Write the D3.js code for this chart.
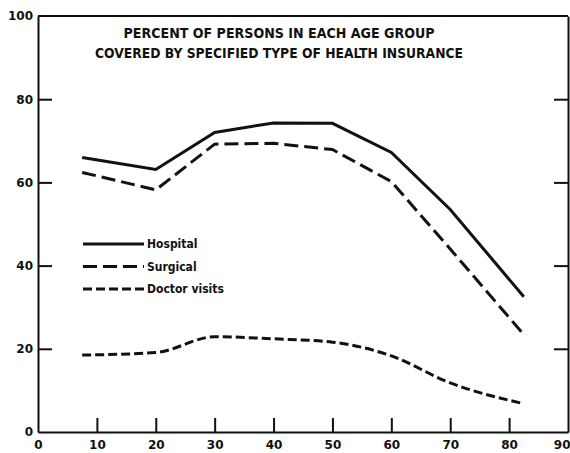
<!DOCTYPE html>
<html>
<head>
<meta charset="utf-8">
<script src="https://d3js.org/d3.v7.min.js"></script>
<style>
  body { margin: 0; background: #fff; }
  text { font-family: "DejaVu Sans Condensed", "DejaVu Sans", sans-serif; font-weight: bold; fill: #111; }
</style>
</head>
<body>
<div id="chart"></div>
<script>
// age group midpoints (years) and percent covered
var ages = [7.5, 20, 30, 40, 50, 60, 70, 82.5];
var hospital = [66.0, 63.1, 72.0, 74.3, 74.2, 67.2, 53.5, 32.5];
var surgical = [62.4, 58.2, 69.2, 69.4, 67.9, 60.2, 44.0, 23.4];
var doctor = [18.5, 19.1, 22.9, 22.4, 21.6, 18.3, 11.8, 6.8];

var xTicks = [0, 10, 20, 30, 40, 50, 60, 70, 80, 90];
var yTicks = [0, 20, 40, 60, 80, 100];
var seriesNames = ["Hospital", "Surgical", "Doctor visits"];
var titleLines = ["PERCENT OF PERSONS IN EACH AGE GROUP",
                  "COVERED BY SPECIFIED TYPE OF HEALTH INSURANCE"];

var width = 570, height = 453;
var plotLeft = 38, plotRight = 568, plotTop = 16, plotBottom = 432;

var svg = d3.select("#chart").append("svg")
    .attr("width", width)
    .attr("height", height);

var x = d3.scaleLinear().domain([0, 90]).range([plotLeft, plotRight]);
var y = d3.scaleLinear().domain([0, 100]).range([plotBottom, plotTop]);

// axes
var xAxis = svg.append("g")
    .attr("transform", "translate(0," + plotBottom + ")")
    .call(d3.axisBottom(x).tickValues(xTicks).tickSize(-14).tickPadding(8).tickSizeOuter(0));

var yAxis = svg.append("g")
    .attr("transform", "translate(" + plotLeft + ",0)")
    .call(d3.axisLeft(y).tickValues(yTicks).tickSize(-14).tickPadding(5).tickSizeOuter(0));

var rAxis = svg.append("g")
    .attr("transform", "translate(" + plotRight + ",0)")
    .call(d3.axisRight(y).tickValues([20, 40, 60, 80]).tickSize(-14).tickSizeOuter(0).tickFormat(""));

svg.selectAll(".domain").attr("stroke", "#111").attr("stroke-width", 2);
svg.selectAll(".tick line").attr("stroke", "#111").attr("stroke-width", 2);
svg.selectAll(".tick text").style("font-size", "12px").style("font-family", "'DejaVu Sans', sans-serif");
// no tick marks at the corners
xAxis.selectAll(".tick").filter(function(d) { return d == 0 || d == 90; }).select("line").remove();
yAxis.selectAll(".tick").filter(function(d) { return d == 0 || d == 100; }).select("line").remove();
// keep the last label inside the window
xAxis.selectAll(".tick").filter(function(d) { return d == 90; }).select("text")
    .attr("text-anchor", "end").attr("x", 2);

// top frame
svg.append("line")
    .attr("x1", plotLeft).attr("x2", plotRight)
    .attr("y1", plotTop).attr("y2", plotTop)
    .attr("stroke", "#111").attr("stroke-width", 2);

// title
svg.selectAll(".title")
  .data(titleLines)
  .enter().append("text")
    .attr("class", "title")
    .attr("x", 279)
    .attr("y", function(d, i) { return 38 + i * 19.5; })
    .attr("text-anchor", "middle")
    .attr("textLength", function(d, i) { return i == 0 ? 311 : 368; })
    .attr("lengthAdjust", "spacingAndGlyphs")
    .style("font-size", "14px")
    .text(function(d) { return d; });

var dashes = ["none", "14,6", "9,4"];
var allSeries = [hospital, surgical, doctor];

var line = d3.line()
    .x(function(d, i) { return x(ages[i]); })
    .y(function(d) { return y(d); });
var smooth = d3.line()
    .x(function(d, i) { return x(ages[i]); })
    .y(function(d) { return y(d); })
    .curve(d3.curveMonotoneX);

svg.selectAll(".series")
  .data(allSeries)
  .enter().append("path")
    .attr("class", "series")
    .attr("d", function(d, i) { return i == 2 ? smooth(d) : line(d); })
    .attr("fill", "none")
    .attr("stroke", "#111")
    .attr("stroke-width", 3)
    .attr("stroke-dasharray", function(d, i) { return dashes[i]; });

// legend
var legend = svg.selectAll(".legend")
  .data(seriesNames)
  .enter().append("g")
    .attr("class", "legend")
    .attr("transform", function(d, i) { return "translate(83," + (244 + i * 22.5) + ")"; });

legend.append("line")
    .attr("x1", 0).attr("x2", 61)
    .attr("stroke", "#111")
    .attr("stroke-width", 3)
    .attr("stroke-dasharray", function(d, i) { return dashes[i]; });

legend.append("text")
    .attr("x", 64)
    .attr("dy", "0.35em")
    .style("font-size", "12px")
    .text(function(d) { return d; });
</script>
</body>
</html>
